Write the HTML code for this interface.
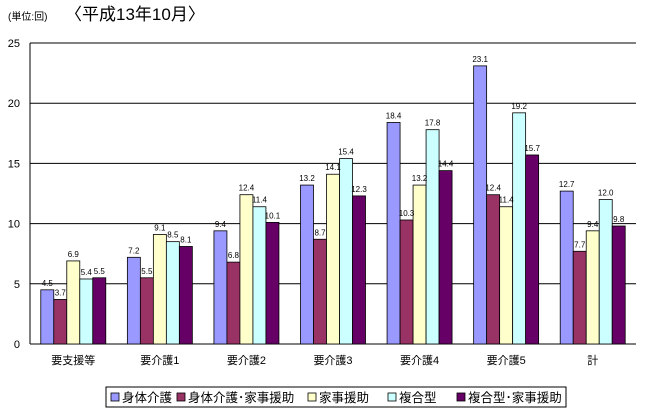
<!DOCTYPE html>
<html><head><meta charset="utf-8"><style>
body{margin:0;background:#fff;}
svg text{font-family:"Liberation Sans","Noto Sans CJK JP",sans-serif;}
</style></head><body>
<svg width="647" height="415" xmlns="http://www.w3.org/2000/svg" id="chart">
<text x="8" y="20" font-size="10">(単位:回)</text>
<text x="65" y="20" font-size="17">〈平成13年10月〉</text>
<g id="grid"></g><g id="bars"></g><g id="labels"></g>
<g id="legend">
<rect x="106" y="387" width="460" height="20" fill="#fff" stroke="#000" stroke-width="1"/>
</g>
</svg>
<script>
const categories=["要支援等","要介護1","要介護2","要介護3","要介護4","要介護5","計"];
const seriesNames=["身体介護","身体介護･家事援助","家事援助","複合型","複合型･家事援助"];
const s1=[4.5,7.2,9.4,13.2,18.4,23.1,12.7];
const s2=[3.7,5.5,6.8,8.7,10.3,12.4,7.7];
const s3=[6.9,9.1,12.4,14.1,13.2,11.4,9.4];
const s4=[5.4,8.5,11.4,15.4,17.8,19.2,12.0];
const s5=[5.5,8.1,10.1,12.3,14.4,15.7,9.8];
const yTicks=[0,5,10,15,20,25];
const series=[s1,s2,s3,s4,s5];
const colors=["#9999ff","#993366","#ffffcc","#ccffff","#660066"];
const NS="http://www.w3.org/2000/svg";
const L=30,R=636,T=43,B=344,ymax=25;
const y=v=>B-(B-T)*v/ymax;
const gw=(R-L)/categories.length,bw=13;
const x=(ci,si)=>L+ci*gw+(gw-5*bw)/2+si*bw;
function mk(tag,attrs,parent){const e=document.createElementNS(NS,tag);for(const k in attrs)e.setAttribute(k,attrs[k]);document.getElementById(parent).appendChild(e);return e;}
yTicks.forEach(t=>{
  const l=mk('line',{x1:L,x2:R,y1:y(t),y2:y(t),stroke:'#000','stroke-width':1},'grid');
  
  
  const tx=mk('text',{x:L-10,y:y(t)+4,'font-size':11,'text-anchor':'end'},'grid');tx.textContent=t;
  
  
});
const ax=mk('line',{x1:L,x2:L,y1:T,y2:B,stroke:'#000'},'grid');


categories.forEach((c,ci)=>{
  const t=mk('text',{x:L+ci*gw+gw/2,y:364,'font-size':11,'text-anchor':'middle'},'labels');t.textContent=c;
  
  
  series.forEach((s,si)=>{
    const v=s[ci];
    const r=mk('rect',{x:x(ci,si),y:y(v),width:bw,height:B-y(v),fill:colors[si],stroke:'#000','stroke-width':0.8},'bars');
    
    
    const vt=mk('text',{x:x(ci,si)+bw/2,y:y(v)-4,'font-size':8,'text-anchor':'middle'},'labels');vt.textContent=v.toFixed(1);
    
    
  });
});
let lx=111;
const widths=[66,131,80,69,110];
seriesNames.forEach((n,i)=>{
  const r=mk('rect',{x:lx,y:393,width:8,height:8,fill:colors[i],stroke:'#000','stroke-width':0.8},'legend');
  
  
  const t=mk('text',{x:lx+11,y:402,'font-size':12.5},'legend');t.textContent=n;
  
  
  lx+=widths[i];
});
</script>
</body></html>
